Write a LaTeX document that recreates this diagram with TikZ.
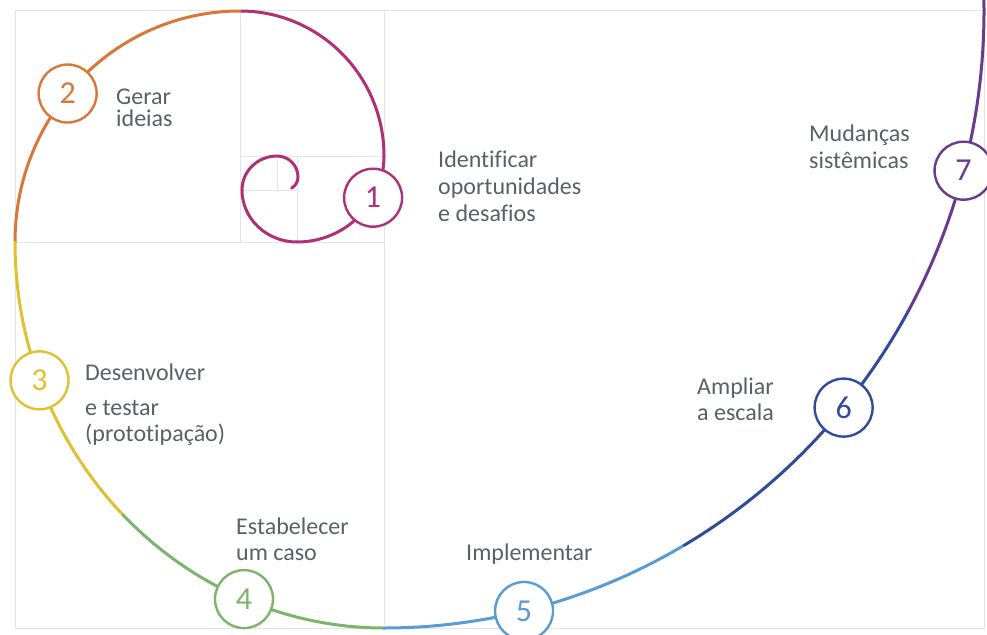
\documentclass[tikz,border=0pt]{standalone}
\usepackage{fontspec}
\setmainfont{Carlito}[Ligatures=NoCommon]

\definecolor{gridgray}{HTML}{E4E4E4}
\definecolor{textgray}{HTML}{5A6068}
\definecolor{stagepink}{HTML}{B03078}
\definecolor{stageorange}{HTML}{D9773A}
\definecolor{stageyellow}{HTML}{E0C030}
\definecolor{stagegreen}{HTML}{7DB46C}
\definecolor{stagelightblue}{HTML}{5B9BD5}
\definecolor{stagedarkblue}{HTML}{2F4B9A}
\definecolor{stagepurple}{HTML}{6A3A8C}

\begin{document}
\begin{tikzpicture}[x=1pt, y=-1pt,
  gridline/.style={draw=gridgray, line width=1pt},
  spiral/.style={line width=3pt, line cap=round},
  stage/.style={circle, draw=#1, fill=white, text=#1, line width=2.4pt,
    minimum size=58pt, inner sep=0pt, font=\fontsize{32}{32}\selectfont},
  stagetext/.style={anchor=north west, align=left, inner sep=0pt, text=textgray,
    font=\fontsize{24}{26}\selectfont}]
\useasboundingbox (0,0) rectangle (987,634);

% Draw the grid of squares
\draw[gridline] (15,11) rectangle (984,628);
\draw[gridline] (384,11) -- (384,628);
\draw[gridline] (15,242) -- (384,242);
\draw[gridline] (240,11) -- (240,242);
\draw[gridline] (240,156) -- (384,156);
\draw[gridline] (297,156) -- (297,242);
\draw[gridline] (240,190) -- (297,190);
\draw[gridline] (277,156) -- (277,190);

% Draw the spiral, one colour for each stage
\draw[spiral, stagepink] (240,11) arc[start angle=-90, end angle=0, x radius=144, y radius=145]
  arc[start angle=0, end angle=90, x radius=87, y radius=86]
  arc[start angle=90, end angle=180, x radius=55, y radius=52]
  arc[start angle=180, end angle=270, x radius=35, y radius=34]
  arc[start angle=270, end angle=360, radius=21]
  arc[start angle=0, end angle=60, radius=13];
\draw[spiral, stageorange] (240,11) arc[start angle=-90, end angle=-180, x radius=225, y radius=231];
\draw[spiral, stageyellow] (15,242) arc[start angle=180, end angle=135, x radius=369, y radius=386];
\draw[spiral, stagegreen] ([shift={(384,242)}]135:369 and 386) arc[start angle=135, end angle=90, x radius=369, y radius=386];
\draw[spiral, stagelightblue] (384,628) arc[start angle=90, end angle=60, x radius=600, y radius=617];
\draw[spiral, stagedarkblue] ([shift={(384,11)}]60:600 and 617) arc[start angle=60, end angle=29, x radius=600, y radius=617];
\draw[spiral, stagepurple] ([shift={(384,11)}]29:600 and 617) arc[start angle=29, end angle=-1, x radius=600, y radius=617];

% Stage circles on the spiral
\node[stage=stagepink] (s1) at ([shift={(297,156)}]29:87 and 86) {1};
\node[stage=stageorange] (s2) at ([shift={(240,242)}]220:225 and 231) {2};
\node[stage=stageyellow] (s3) at ([shift={(384,242)}]159:369 and 386) {3};
\node[stage=stagegreen] (s4) at ([shift={(384,242)}]112.3:369 and 386) {4};
\node[stage=stagelightblue] (s5) at ([shift={(384,11)}]76.5:600 and 617) {5};
\node[stage=stagedarkblue] (s6) at ([shift={(384,11)}]40:600 and 617) {6};
\node[stage=stagepurple] (s7) at ([shift={(384,11)}]15:600 and 617) {7};

% Stage names
\node[stagetext, font=\fontsize{24}{22}\selectfont] (t2) at (116,89) {Gerar\\ideias};
\node[stagetext, font=\fontsize{24}{27}\selectfont] (t1) at (438,151) {Identificar\\oportunidades\\e desafios};
\node[stagetext] (t3) at (85,364) {Desenvolver\\[9pt]e testar\\(prototipação)};
\node[stagetext] (t4) at (236,518) {Estabelecer\\um caso};
\node[stagetext] (t5) at (466,544) {Implementar};
\node[stagetext] (t6) at (697,378) {Ampliar\\a escala};
\node[stagetext, font=\fontsize{24}{27}\selectfont] (t7) at (809,125) {Mudanças\\sistêmicas};
\end{tikzpicture}
\end{document}
